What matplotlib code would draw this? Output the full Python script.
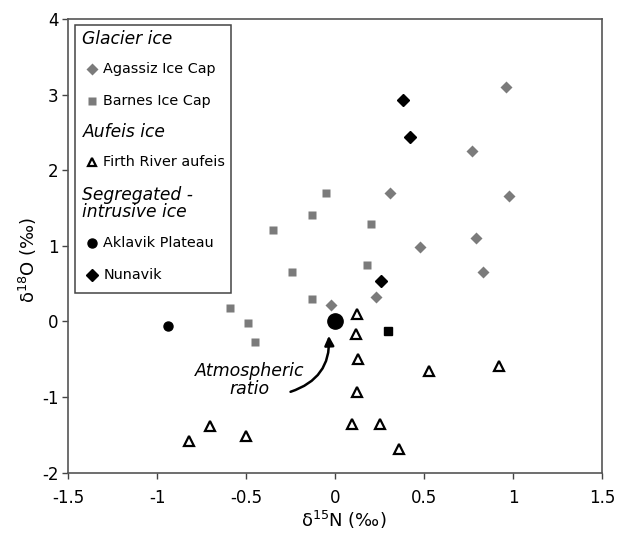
import matplotlib.pyplot as plt
from matplotlib.patches import Rectangle
from matplotlib.ticker import FuncFormatter

plt.rcParams['axes.unicode_minus'] = False
plt.rcParams['font.family'] = 'DejaVu Sans'

# glacier ice
agassiz_n = [0.96, 0.77, 0.98, 0.31, 0.79, 0.48, 0.83, 0.23, -0.02]
agassiz_o = [3.10, 2.25, 1.66, 1.70, 1.11, 0.99, 0.65, 0.32, 0.22]
barnes_n = [-0.05, -0.13, 0.20, 0.18, -0.35, -0.24, -0.13, -0.59, -0.49, -0.45]
barnes_o = [1.70, 1.41, 1.29, 0.75, 1.21, 0.65, 0.30, 0.18, -0.02, -0.27]
# aufeis
firth_n = [0.125, 0.12, 0.13, 0.53, 0.92, 0.125, 0.095, 0.25, 0.36, -0.70, -0.82, -0.50]
firth_o = [0.10, -0.16, -0.50, -0.65, -0.59, -0.93, -1.36, -1.36, -1.69, -1.38, -1.58, -1.52]
# segregated-intrusive ice
aklavik_n = [-0.94]
aklavik_o = [-0.06]
nunavik_n = [0.38, 0.42, 0.26]
nunavik_o = [2.93, 2.44, 0.54]
other_n = [0.30]
other_o = [-0.12]
atm_n = [0.0]
atm_o = [0.0]

GREY = '#7b7b7b'

fig = plt.figure(figsize=(6.3, 5.33), dpi=100)
ax = fig.add_axes([0.108, 0.1131, 0.8476, 0.8513])

ax.plot(agassiz_n, agassiz_o, 'D', color=GREY, ms=6.4, mec='none')
ax.plot(barnes_n, barnes_o, 's', color=GREY, ms=5.8, mec='none')
ax.plot(firth_n, firth_o, '^', mfc='white', mec='black', mew=1.6, ms=6.5)
ax.plot(aklavik_n, aklavik_o, 'o', color='black', ms=6.5)
ax.plot(nunavik_n, nunavik_o, 'D', color='black', ms=6.6)
ax.plot(other_n, other_o, 's', color='black', ms=5.8)
ax.plot(atm_n, atm_o, 'o', color='black', ms=11)

ax.text(-0.48, -0.77, 'Atmospheric\nratio', ha='center', va='center',
        fontsize=12.5, style='italic', linespacing=1.0)
ax.annotate('', xy=(-0.035, -0.19), xytext=(-0.25, -0.93),
            arrowprops=dict(arrowstyle='-|>', color='black', lw=1.8,
                            mutation_scale=14, shrinkA=0, shrinkB=0,
                            connectionstyle='arc3,rad=0.38'))

ax.set_xlim(-1.5, 1.5)
ax.set_ylim(-2, 4)
ax.set_xticks([-1.5, -1, -0.5, 0, 0.5, 1, 1.5])
ax.set_yticks([-2, -1, 0, 1, 2, 3, 4])
ax.xaxis.set_major_formatter(FuncFormatter(lambda v, p: f'{v:g}'))
ax.yaxis.set_major_formatter(FuncFormatter(lambda v, p: f'{v:g}'))
ax.tick_params(direction='out', length=4, width=1, color='#444444', labelsize=12)
ax.tick_params(axis='x', pad=8)
ax.tick_params(axis='y', pad=3)
for s in ax.spines.values():
    s.set_color('#555555')
    s.set_linewidth(1.2)

ax.set_xlabel('δ$^{15}$N (‰)', fontsize=13)
ax.set_ylabel('δ$^{18}$O (‰)', fontsize=13)
ax.xaxis.set_label_coords(0.516, -0.080)
ax.yaxis.set_label_coords(-0.055, 0.469)

# hand-made legend box
ax.add_patch(Rectangle((0.013, 0.396), 0.292, 0.591, transform=ax.transAxes,
                       fill=False, ec='#444444', lw=1.1, zorder=5))
tr = ax.transAxes
hx, mx, tx = 0.027, 0.0455, 0.066
for y, txt in [(0.956, 'Glacier ice'), (0.751, 'Aufeis ice'),
               (0.594, 'Segregated -\nintrusive ice')]:
    ax.text(hx, y, txt, transform=tr, fontsize=12.3, style='italic',
            va='center', ha='left', linespacing=0.95)
rows = [(0.890, 'Agassiz Ice Cap', dict(marker='D', color=GREY, ms=6.0, mec='none')),
        (0.820, 'Barnes Ice Cap', dict(marker='s', color=GREY, ms=5.6, mec='none')),
        (0.684, 'Firth River aufeis', dict(marker='^', mfc='white', mec='black', mew=1.6, ms=6.0)),
        (0.506, 'Aklavik Plateau', dict(marker='o', color='black', ms=6.5)),
        (0.436, 'Nunavik', dict(marker='D', color='black', ms=6.0))]
for y, txt, kw in rows:
    ax.plot([mx], [y], transform=tr, linestyle='none', clip_on=False, **kw)
    ax.text(tx, y, txt, transform=tr, fontsize=10.4, va='center', ha='left')

plt.savefig('out.png', dpi=100)
